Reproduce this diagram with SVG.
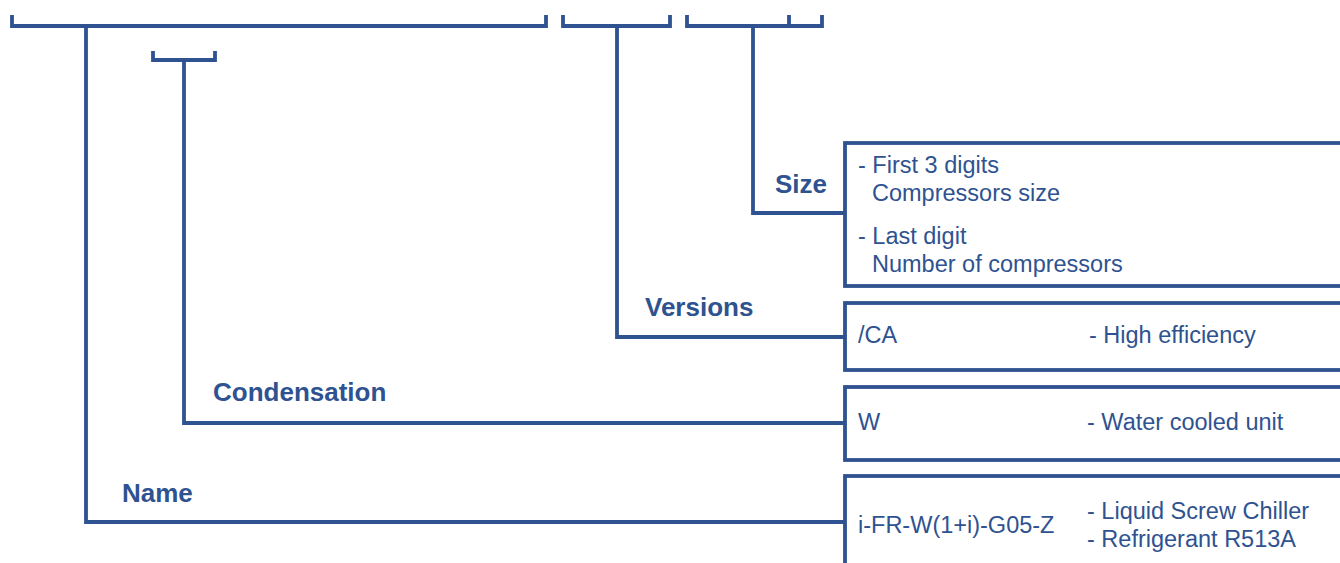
<svg xmlns="http://www.w3.org/2000/svg" width="1340" height="563" viewBox="0 0 1340 563">
<style>
.ln{fill:none;stroke:#2F5290;stroke-width:3.8;stroke-linejoin:miter;stroke-linecap:butt}
.bx{fill:#fff;stroke:#2F5290;stroke-width:3.8}
.t{font-family:"Liberation Sans",Arial,sans-serif;font-size:23.5px;fill:#2F5290}
.b{font-family:"Liberation Sans",Arial,sans-serif;font-size:26px;font-weight:bold;fill:#2F5290}
</style>
<rect width="1340" height="563" fill="#fff"/>
<g id="connectors">
<path class="ln" d="M12,15 V26 H546 V15"/>
<path class="ln" d="M153,51 V60 H215 V51"/>
<path class="ln" d="M563,15 V26 H670 V15"/>
<path class="ln" d="M687,15 V26 H822 V15 M789,15 V26"/>
<path class="ln" d="M86,26 V522 H845"/>
<path class="ln" d="M184,60 V423 H845"/>
<path class="ln" d="M617,26 V337 H845"/>
<path class="ln" d="M753,26 V213 H845"/>
</g>
<g id="size">
<rect class="bx" x="845" y="143" width="520" height="143"/>
<text class="b" x="775" y="193">Size</text>
<text class="t" x="858" y="173">- First 3 digits</text>
<text class="t" x="872" y="201">Compressors size</text>
<text class="t" x="858" y="244">- Last digit</text>
<text class="t" x="872" y="272">Number of compressors</text>
</g>
<g id="versions">
<rect class="bx" x="845" y="303" width="520" height="67"/>
<text class="b" x="645" y="316">Versions</text>
<text class="t" x="858" y="343">/CA</text>
<text class="t" x="1089" y="343">- High efficiency</text>
</g>
<g id="condensation">
<rect class="bx" x="845" y="387" width="520" height="73"/>
<text class="b" x="213" y="401">Condensation</text>
<text class="t" x="858" y="430">W</text>
<text class="t" x="1087" y="430">- Water cooled unit</text>
</g>
<g id="name">
<rect class="bx" x="845" y="476" width="520" height="120"/>
<text class="b" x="122" y="502">Name</text>
<text class="t" x="858" y="533">i-FR-W(1+i)-G05-Z</text>
<text class="t" x="1087" y="519">- Liquid Screw Chiller</text>
<text class="t" x="1087" y="547">- Refrigerant R513A</text>
</g>
</svg>
